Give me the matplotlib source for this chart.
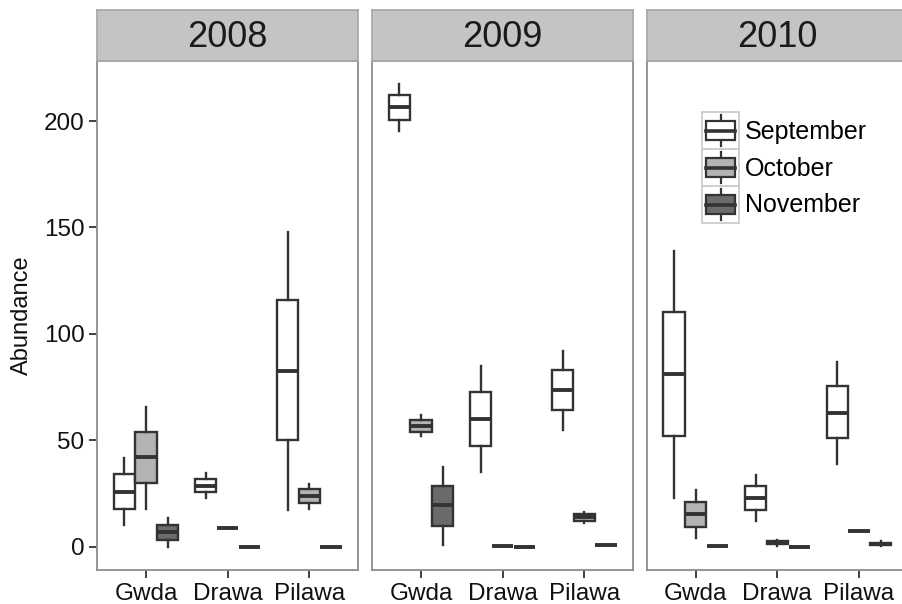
import matplotlib.pyplot as plt
from matplotlib.patches import Patch, Rectangle
from matplotlib.lines import Line2D
from matplotlib.legend_handler import HandlerBase

plt.rcParams['font.family'] = ['Liberation Sans', 'DejaVu Sans']

rivers = ["Gwda", "Drawa", "Pilawa"]
years = ["2008", "2009", "2010"]
months = ["September", "October", "November"]

# whisker low, Q1, median, Q3, whisker high -- one row per river (Gwda, Drawa, Pilawa)
sep_2008 = [[10.2, 17.9, 25.9, 34.0, 41.8], [23.0, 25.7, 28.8, 32.1, 34.5], [17.1, 50.0, 82.6, 115.8, 148.1]]
oct_2008 = [[18.0, 29.8, 42.1, 54.1, 65.8], [9.0, 9.0, 9.0, 9.0, 9.0], [18.0, 20.7, 24.1, 27.3, 29.6]]
nov_2008 = [[0.0, 3.4, 7.0, 10.5, 13.6], [0.0, 0.0, 0.0, 0.0, 0.0], [0.0, 0.0, 0.0, 0.0, 0.0]]

sep_2009 = [[195.4, 200.6, 206.7, 212.3, 217.3], [35.1, 47.3, 60.2, 72.9, 84.9], [55.1, 64.2, 73.6, 82.9, 92.0]]
oct_2009 = [[52.0, 54.1, 56.7, 59.8, 61.7], [0.5, 0.5, 0.5, 0.5, 0.5], [11.0, 12.2, 13.9, 15.6, 16.6]]
nov_2009 = [[1.1, 10.0, 19.6, 28.8, 37.6], [0.0, 0.0, 0.0, 0.0, 0.0], [1.0, 1.0, 1.0, 1.0, 1.0]]

sep_2010 = [[23.0, 52.0, 81.2, 110.5, 139.0], [12.0, 17.2, 23.0, 28.5, 33.7], [39.0, 50.9, 63.0, 75.4, 87.0]]
oct_2010 = [[4.0, 9.4, 15.5, 21.3, 26.6], [0.3, 1.3, 2.0, 2.7, 3.4], [7.3, 7.3, 7.3, 7.3, 7.3]]
nov_2010 = [[0.6, 0.6, 0.6, 0.6, 0.6], [0.0, 0.0, 0.0, 0.0, 0.0], [0.3, 0.9, 1.4, 1.9, 2.6]]

data = {
    "2008": [sep_2008, oct_2008, nov_2008],
    "2009": [sep_2009, oct_2009, nov_2009],
    "2010": [sep_2010, oct_2010, nov_2010],
}

fills = ["#FFFFFF", "#B3B3B3", "#6B6B6B"]
dark = "#333333"
offsets = [-0.267, 0.0, 0.267]
box_w = 0.26


def to_stats(rows):
    out = []
    for lo, q1, med, q3, hi in rows:
        out.append({"whislo": lo, "q1": q1, "med": med, "q3": q3, "whishi": hi, "fliers": []})
    return out


class BoxKeyHandler(HandlerBase):
    # little boxplot glyph inside a grey key square
    def create_artists(self, legend, orig_handle, xdescent, ydescent,
                       width, height, fontsize, trans):
        x0, y0 = -xdescent, -ydescent
        h = height
        frame = Rectangle((x0, y0), width, h, facecolor="white",
                          edgecolor="#CCCCCC", lw=1.3, transform=trans)
        cx = x0 + width / 2
        whisk = Line2D([cx, cx], [y0 + 0.08 * h, y0 + 0.92 * h], color=dark, lw=1.6, transform=trans)
        box = Rectangle((x0 + 0.1 * width, y0 + 0.25 * h), 0.8 * width, 0.5 * h,
                        facecolor=orig_handle.get_facecolor(), edgecolor=dark, lw=1.6,
                        transform=trans)
        med = Line2D([x0 + 0.1 * width, x0 + 0.9 * width], [y0 + 0.5 * h] * 2,
                     color=dark, lw=2.6, transform=trans)
        return [frame, whisk, box, med]


W, H = 902, 604
fig = plt.figure(figsize=(W / 100, H / 100), dpi=100)

lefts = [97, 372, 646.7]
pw = 261.3
top, bottom, strip_top = 61, 570, 10

for i, yr in enumerate(years):
    left = lefts[i]
    ax = fig.add_axes([left / W, (H - bottom) / H, pw / W, (bottom - top) / H])
    for j, month_rows in enumerate(data[yr]):
        pos = [k + 1 + offsets[j] for k in range(len(rivers))]
        ax.bxp(to_stats(month_rows), positions=pos, widths=box_w,
               patch_artist=True, showcaps=False, showfliers=False,
               boxprops=dict(facecolor=fills[j], edgecolor=dark, linewidth=1.7),
               medianprops=dict(color=dark, linewidth=2.8, solid_capstyle="butt"),
               whiskerprops=dict(color=dark, linewidth=1.7),
               manage_ticks=False)
    ax.set_xlim(0.4, 3.6)
    ax.set_ylim(-10.87, 228.2)
    ax.set_xticks([1, 2, 3])
    ax.set_xticklabels(rivers, fontsize=17.5, color="#111111")
    ax.set_yticks([0, 50, 100, 150, 200])
    ax.tick_params(axis="both", length=6, width=1.3, color=dark, pad=3)
    for s in ax.spines.values():
        s.set_color("#8C8C8C")
        s.set_linewidth(1.3)
    if i == 0:
        ax.set_yticklabels(["0", "50", "100", "150", "200"], fontsize=17.5, color="#111111")
        ax.set_ylabel("Abundance", fontsize=17, color="#111111", labelpad=8)
    else:
        ax.tick_params(axis="y", left=False, labelleft=False)

    strip = fig.add_axes([left / W, (H - top) / H, pw / W, (top - strip_top) / H])
    strip.set_facecolor("#C4C4C4")
    strip.set_xticks([])
    strip.set_yticks([])
    for s in strip.spines.values():
        s.set_color("#A6A6A6")
        s.set_linewidth(1.2)
    strip.text(0.5, 0.47, yr, ha="center", va="center", fontsize=26,
               color="#1A1A1A", transform=strip.transAxes)

handles = [Patch(facecolor=c, edgecolor=dark) for c in fills]
fig.legend(handles, months, handler_map={Patch: BoxKeyHandler()},
           loc="upper left", bbox_to_anchor=(702 / W, 1 - 112 / H),
           frameon=False, borderpad=0, borderaxespad=0,
           handlelength=1.48, handleheight=1.9, handletextpad=0.25,
           labelspacing=0.0, fontsize=18)

fig.savefig("out.png", dpi=100)
